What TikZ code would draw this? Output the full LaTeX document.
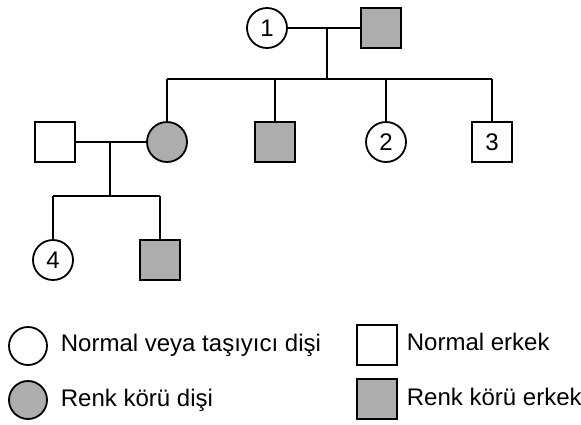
\documentclass[tikz,border=0pt]{standalone}
\usepackage{fontspec}
\setmainfont{Liberation Sans}
\definecolor{affected}{HTML}{ADADAD}
\begin{document}
\begin{tikzpicture}[x=1pt,y=-1pt,line width=1.8pt,
  txt/.style={font=\fontsize{24}{28}\selectfont},
  female/.style={circle,draw,minimum size=40pt,inner sep=0pt,txt},
  male/.style={rectangle,draw,minimum size=40pt,inner sep=0pt,txt},
  affect/.style={fill=affected},
  legend/.style={anchor=base west,inner sep=0pt,txt}]
\useasboundingbox (0,0) rectangle (581,424);

% generation I
\node[female] (g1f) at (267,28) {1};
\node[male,affect] (g1m) at (381,28) {};
\draw (g1f) -- (g1m);
\coordinate (mar1) at (327,28);
\coordinate (sib1) at (327,79);
\draw (mar1) -- (sib1);

% generation II
\node[male] (g2m) at (55,142) {};
\node[female,affect] (g2a) at (167,142) {};
\node[male,affect] (g2b) at (275,142) {};
\node[female] (g2c) at (386,142) {2};
\node[male] (g2d) at (492,142) {3};
\draw (sib1 -| g2a) -- (sib1 -| g2d);
\foreach \k in {g2a,g2b,g2c,g2d} \draw (sib1 -| \k) -- (\k);
\draw (g2m) -- (g2a);
\coordinate (mar2) at (110,142);
\coordinate (sib2) at (110,196);
\draw (mar2) -- (sib2);

% generation III
\node[female] (g3a) at (53,260) {4};
\node[male,affect] (g3b) at (160,260) {};
\draw (sib2 -| g3a) -- (sib2 -| g3b);
\foreach \k in {g3a,g3b} \draw (sib2 -| \k) -- (\k);

% key
\node[female,minimum size=38pt] (kf) at (28,346) {};
\node[legend] (kft) at (60,351) {Normal veya taşıyıcı dişi};
\node[female,affect,minimum size=38pt] (ka) at (28,400) {};
\node[legend] (kat) at (60,406) {Renk körü dişi};
\node[male] (km) at (377,345) {};
\node[legend] (kmt) at (406,350) {Normal erkek};
\node[male,affect] (kb) at (377,399) {};
\node[legend] (kbt) at (406,405) {Renk körü erkek};
\end{tikzpicture}
\end{document}
